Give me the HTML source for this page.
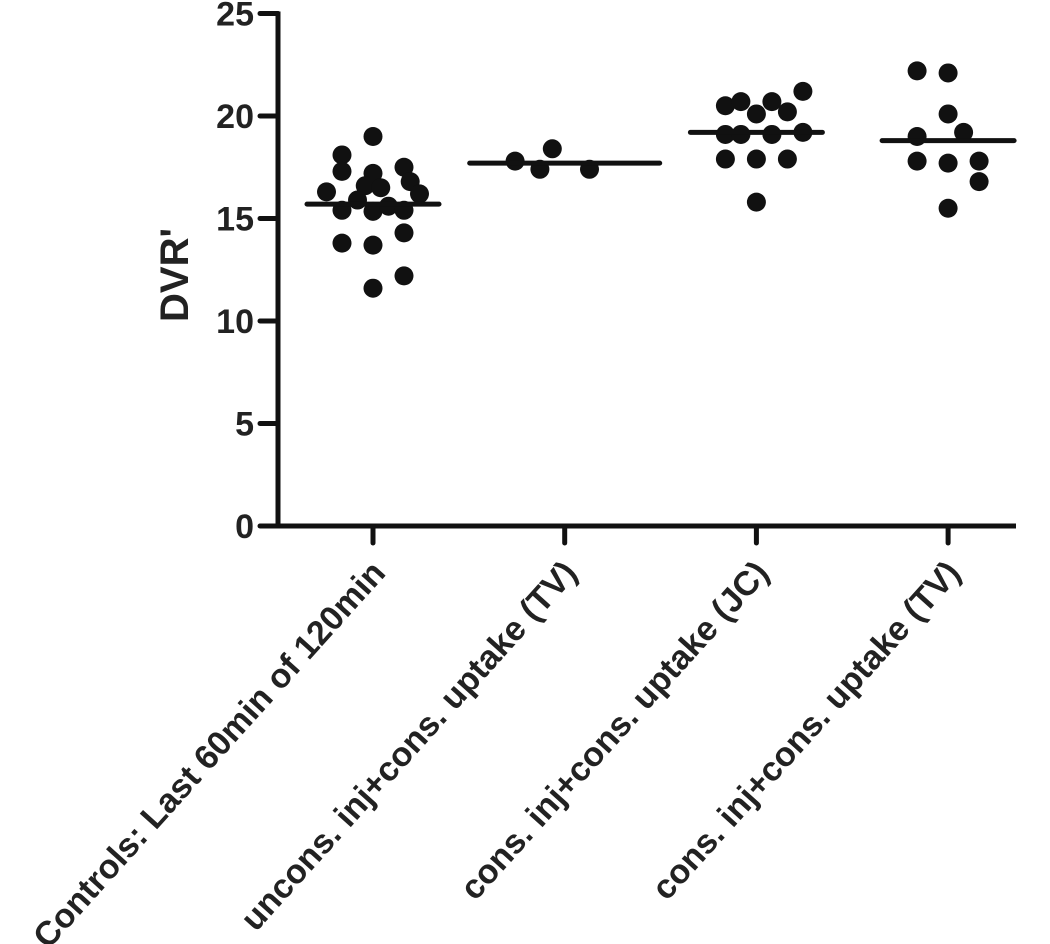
<!DOCTYPE html>
<html><head><meta charset="utf-8"><style>
html,body{margin:0;padding:0;background:#fff;}
svg{display:block;font-family:"Liberation Sans",Arial,sans-serif;font-weight:bold;}
</style></head><body>
<svg id="chart" width="1050" height="944" viewBox="0 0 1050 944" xmlns="http://www.w3.org/2000/svg"></svg>
<script>
const categories = ["Controls: Last 60min of 120min","uncons. inj+cons. uptake (TV)","cons. inj+cons. uptake (JC)","cons. inj+cons. uptake (TV)"];
const yTicks = [0,5,10,15,20,25];
const g1Values = [19.0,18.1,17.3,17.5,17.2,16.8,16.6,16.5,16.3,16.2,15.9,15.4,15.35,15.6,15.4,13.8,13.7,14.3,12.2,11.6];
const g1Jitter = [0,-1,-1,1,0,1.2,-0.25,0.25,-1.5,1.5,-0.5,-1,0,0.5,1,-1,0,1,1,0];
const g2Values = [17.8,17.4,18.4,17.4];
const g2Jitter = [-1.6,-0.8,-0.4,0.8];
const g3Values = [20.5,20.7,20.1,20.7,20.2,21.2,19.1,19.1,19.1,19.2,17.9,17.9,17.9,15.8];
const g3Jitter = [-1,-0.5,0,0.5,1,1.5,-1,-0.5,0.5,1.5,-1,0,1,0];
const g4Values = [22.2,22.1,20.1,19.0,19.2,17.8,17.7,17.8,16.8,15.5];
const g4Jitter = [-1,0,0,-1,0.5,-1,0,1,1,0];
const means = [15.7,17.7,19.2,18.8];

const NS="http://www.w3.org/2000/svg";
const svg=document.getElementById('chart');
const x0=278, xCat0=373, xStep=191.7, jitterPx=31;
const yBase=526, yPerUnit=20.5;
function yS(v){return yBase - v*yPerUnit;}
function xS(i){return xCat0 + i*xStep;}
function mk(tag,attrs){const e=document.createElementNS(NS,tag);for(const k in attrs)e.setAttribute(k,attrs[k]);svg.appendChild(e);return e;}

let ya=mk('line',{x1:x0,y1:yS(25)-2,x2:x0,y2:yBase+2,stroke:'#111','stroke-width':5});


let xa=mk('line',{x1:x0-2,y1:yBase,x2:1016,y2:yBase,stroke:'#111','stroke-width':5});



yTicks.forEach(t=>{
  let l=mk('line',{x1:260,y1:yS(t),x2:x0,y2:yS(t),stroke:'#111','stroke-width':5,'stroke-linecap':'round'});
  
  
  let tx=mk('text',{x:254,y:yS(t)+12,'text-anchor':'end','font-size':34,fill:'#222'});
  tx.textContent=t;
  
  
});

categories.forEach((c,i)=>{
  let l=mk('line',{x1:xS(i),y1:yBase,x2:xS(i),y2:yBase+17,stroke:'#111','stroke-width':5,'stroke-linecap':'round'});
  
  
  let tx=mk('text',{x:0,y:0,'text-anchor':'end','font-size':34,fill:'#222',transform:`translate(${xS(i)+14},${yBase+48}) rotate(-48)`});
  tx.textContent=c;
  
  
});

let yt=mk('text',{x:0,y:0,'text-anchor':'middle','font-size':40,fill:'#222',transform:`translate(188,275) rotate(-90)`});
yt.textContent="DVR'";



const groups=[[g1Values,g1Jitter],[g2Values,g2Jitter],[g3Values,g3Jitter],[g4Values,g4Jitter]];
groups.forEach((g,i)=>{
  const [vals,jit]=g;
  vals.forEach((v,k)=>{
    let c=mk('circle',{cx:xS(i)+jit[k]*jitterPx,cy:yS(v),r:9.5,fill:'#111'});
    
    
  });
  const hw = i===1?95:66;
  let m=mk('line',{x1:xS(i)-hw,y1:yS(means[i]),x2:xS(i)+hw,y2:yS(means[i]),stroke:'#111','stroke-width':5,'stroke-linecap':'round'});
  
  
});
</script>
</body></html>
